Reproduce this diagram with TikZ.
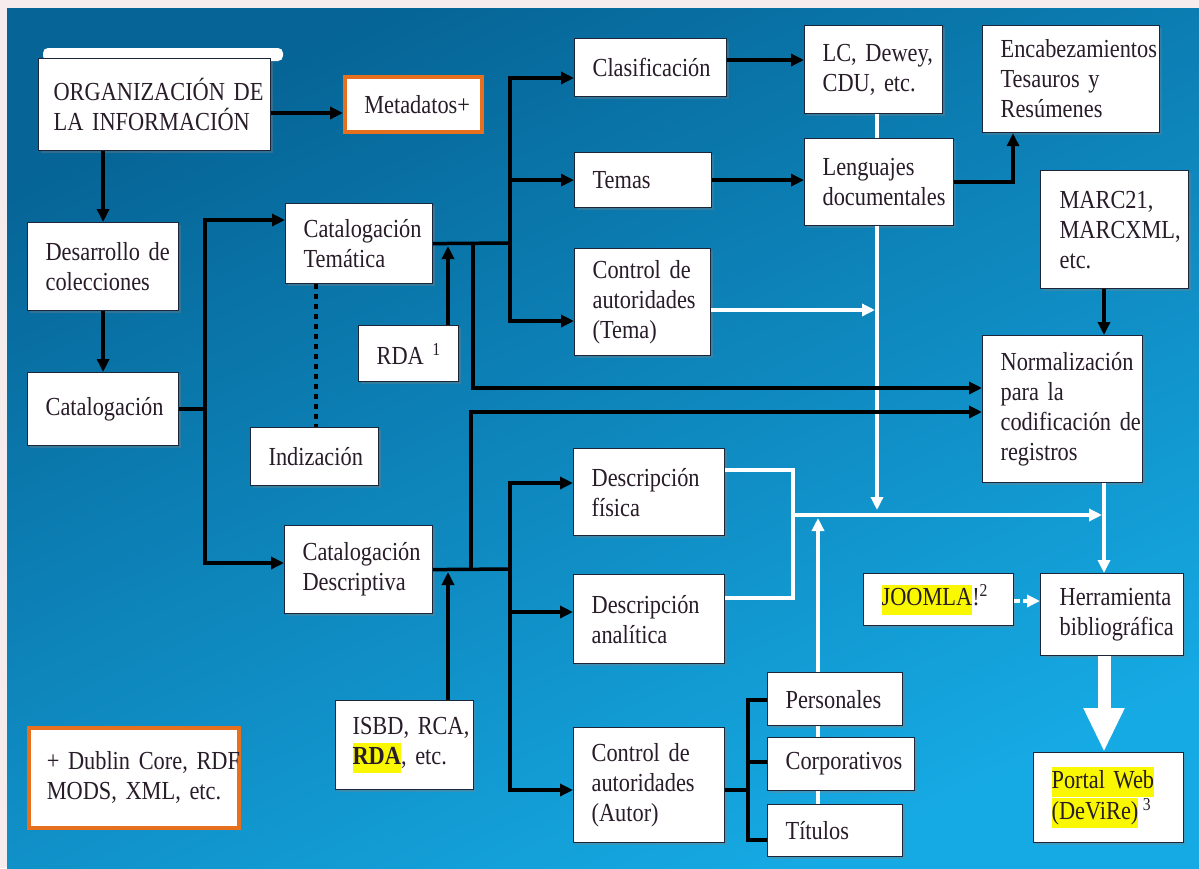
\documentclass[tikz,border=0pt]{standalone}
\usepackage{fontspec}
\setmainfont{Liberation Serif}[FakeStretch=0.86, WordSpace=0.7]
\usetikzlibrary{arrows.meta,shadows}

\definecolor{bgtop}{RGB}{6,100,150}
\definecolor{bgbot}{RGB}{22,170,228}
\definecolor{pagerim}{RGB}{246,236,238}
\definecolor{boxline}{RGB}{28,38,58}
\definecolor{inktext}{RGB}{40,28,40}
\definecolor{orangeline}{RGB}{230,112,30}
\definecolor{hlyellow}{RGB}{250,248,0}

\newcommand{\hlt}[1]{{\setlength{\fboxsep}{0pt}\colorbox{hlyellow}{\strut #1}}}

\begin{document}
\begin{tikzpicture}[x=1pt,y=1pt,yscale=-1,xscale=1,
	font=\fontsize{26}{30}\selectfont,
	box/.style={draw=boxline, line width=1.2pt, fill=white, anchor=north west, align=left, inner xsep=18pt, inner ysep=2pt, text=inktext,
		drop shadow={shadow xshift=2pt, shadow yshift=-2pt, opacity=0.35}},
	metabox/.style={box, draw=orangeline, line width=3.5pt},
	conn/.style={line width=3.5pt, black},
	arr/.style={conn, -{Triangle[length=13pt,width=12pt]}},
	wconn/.style={line width=3.5pt, white},
	warr/.style={wconn, -{Triangle[length=13pt,width=12pt]}}]
	\useasboundingbox (0,0) rectangle (1199,868);
	
	%Shape: Background
	\fill[pagerim] (0,0) rectangle (1199,868);
	\shade[top color=bgtop, bottom color=bgbot, shading angle=25] (7,8) rectangle (1199,868);
	%Shape: Rounded bar over the title box
	\fill[white, rounded corners=5pt] (43,48) rectangle (283,61);
	
	% Text Node
	\node[box, text width=202pt, minimum height=92pt, inner xsep=15pt] (org) at (38,58) {ORGANIZACIÓN~DE\\LA~INFORMACIÓN};
	% Text Node
	\node[metabox, text width=98pt, minimum height=55pt, inner xsep=19.5pt] (meta) at (343,75) {Metadatos+};
	% Text Node
	\node[box, text width=115pt, minimum height=88pt] (desa) at (27,222) {Desarrollo~de\\colecciones};
	% Text Node
	\node[box, text width=115pt, minimum height=73pt] (cat) at (27,372) {Catalogación};
	% Text Node
	\node[box, text width=111pt, minimum height=80pt] (ctem) at (285,203) {Catalogación\\Temática};
	% Text Node
	\node[box, text width=92pt, minimum height=58pt] (indz) at (250,427) {Indización};
	% Text Node
	\node[box, text width=64pt, minimum height=56pt] (rda) at (358,325) {RDA~\textsuperscript{1}};
	% Text Node
	\node[box, text width=112pt, minimum height=88pt] (cdes) at (284,525) {Catalogación\\Descriptiva};
	% Text Node
	\node[box, text width=104pt, minimum height=89pt, inner xsep=17pt] (isbd) at (335,700) {ISBD,~RCA,\\\hlt{\textbf{RDA}},~etc.};
	% Text Node
	\node[metabox, text width=174pt, minimum height=100pt] (leg) at (27,726) {+~Dublin~Core,~RDF\\MODS,~XML,~etc.};
	
	% Text Node
	\node[box, text width=116pt, minimum height=58pt] (clas) at (574,38) {Clasificación};
	% Text Node
	\node[box, text width=101pt, minimum height=55pt] (temas) at (574,152) {Temas};
	% Text Node
	\node[box, text width=100pt, minimum height=107pt] (ctema) at (574,248) {Control~de\\autoridades\\(Tema)};
	% Text Node
	\node[box, text width=102pt, minimum height=88pt] (lc) at (804,25) {LC,~Dewey,\\CDU,~etc.};
	% Text Node
	\node[box, text width=113pt, minimum height=87pt] (leng) at (804,138) {Lenguajes\\documentales};
	% Text Node
	\node[box, text width=141pt, minimum height=107pt] (enc) at (982,25) {Encabezamientos\\Tesauros~y\\Resúmenes};
	% Text Node
	\node[box, text width=110pt, minimum height=118pt, inner xsep=19pt] (marc) at (1040,170) {MARC21,\\MARCXML,\\etc.};
	% Text Node
	\node[box, text width=124pt, minimum height=147pt] (norm) at (982,335) {Normalización\\para~la\\codificación~de\\registros};
	
	% Text Node
	\node[box, text width=115pt, minimum height=87pt] (dfis) at (573,448) {Descripción\\física};
	% Text Node
	\node[box, text width=115pt, minimum height=89pt] (dana) at (573,574) {Descripción\\analítica};
	% Text Node
	\node[box, text width=115pt, minimum height=115pt] (caut) at (573,727) {Control~de\\autoridades\\(Autor)};
	% Text Node
	\node[box, text width=99pt, minimum height=53pt] (pers) at (767,672) {Personales};
	% Text Node
	\node[box, text width=111pt, minimum height=53pt] (corp) at (767,737) {Corporativos};
	% Text Node
	\node[box, text width=99pt, minimum height=52pt] (tit) at (767,804) {Títulos};
	% Text Node
	\node[box, text width=114pt, minimum height=52pt] (joom) at (863,573) {\hlt{JOOMLA}!\textsuperscript{2}};
	% Text Node
	\node[box, text width=105pt, minimum height=82pt, inner xsep=19pt] (herr) at (1040,573) {Herramienta\\bibliográfica};
	% Text Node
	\node[box, text width=114pt, minimum height=90pt] (port) at (1033,752) {\hlt{Portal~Web}\\\hlt{(DeViRe)}\,\textsuperscript{3}};
	
	%Straight Lines (white, drawn first)
	\draw[wconn] (lc.south -| 877,0) -- (leng.north -| 877,0);
	\draw[warr] (leng.south -| 877,0) -- (877,510);
	\draw[warr] (ctema.east |- 0,310) -- (875,310);
	\draw[wconn] (dfis.east |- 0,470) -| (793,598) -- (dana.east |- 0,598);
	\draw[warr] (793,515) -- (1102,515);
	\draw[warr] (pers.north -| 818,0) -- (818,518);
	\draw[wconn] (pers.south -| 818,0) -- (corp.north -| 818,0);
	\draw[wconn] (corp.south -| 818,0) -- (tit.north -| 818,0);
	\draw[warr, dash pattern=on 6pt off 3pt] (joom.east |- 0,601) -- (herr.west |- 0,601);
	\draw[warr] (norm.south -| 1104,0) -- (herr.north -| 1104,0);
	\draw[white, line width=13pt, -{Triangle[length=44pt,width=38pt]}] (herr.south -| 1104,0) -- (port.north -| 1104,0);
	
	%Straight Lines
	\draw[arr] (org.east |- 0,113) -- (meta.west |- 0,113);
	\draw[arr] (org.south -| desa.north) -- (desa.north);
	\draw[arr] (desa.south) -- (cat.north);
	\draw[arr] (cat.east) -| (205,220) -- (ctem.west |- 0,220);
	\draw[arr] (cat.east) -| (205,563) -- (cdes.west |- 0,563);
	\draw[conn, dash pattern=on 5pt off 5pt] (ctem.south -| 316,0) -- (indz.north -| 316,0);
	
	\draw[conn] (ctem.east) -- (510,243);
	\draw[arr] (510,243) |- (clas.west |- 0,78);
	\draw[arr] (510,243) |- (temas.west);
	\draw[arr] (510,243) |- (ctema.west |- 0,321);
	\draw[arr] (rda.north -| 448,0) -- (448,246);
	\draw[arr] (473,243) |- (norm.west |- 0,388);
	
	\draw[conn] (cdes.east) -- (510,569);
	\draw[arr] (510,569) |- (dfis.west |- 0,483);
	\draw[arr] (510,569) |- (dana.west |- 0,612);
	\draw[arr] (510,569) |- (caut.west |- 0,790);
	\draw[arr] (isbd.north -| 448,0) -- (448,572);
	\draw[arr] (471,569) |- (norm.west |- 0,412);
	
	\draw[arr] (clas.east |- 0,60) -- (lc.west |- 0,60);
	\draw[arr] (temas.east) -- (temas.east -| leng.west);
	\draw[arr] (leng.east) -| (enc.south -| 1013,0);
	\draw[arr] (marc.south -| 1104,0) -- (norm.north -| 1104,0);
	
	\draw[conn] (caut.east |- 0,790) -- (748,790);
	\draw[conn] (pers.west |- 0,700) -| (748,840) -- (tit.west |- 0,840);
	\draw[conn] (748,762) -- (corp.west |- 0,762);
	
\end{tikzpicture}
\end{document}
